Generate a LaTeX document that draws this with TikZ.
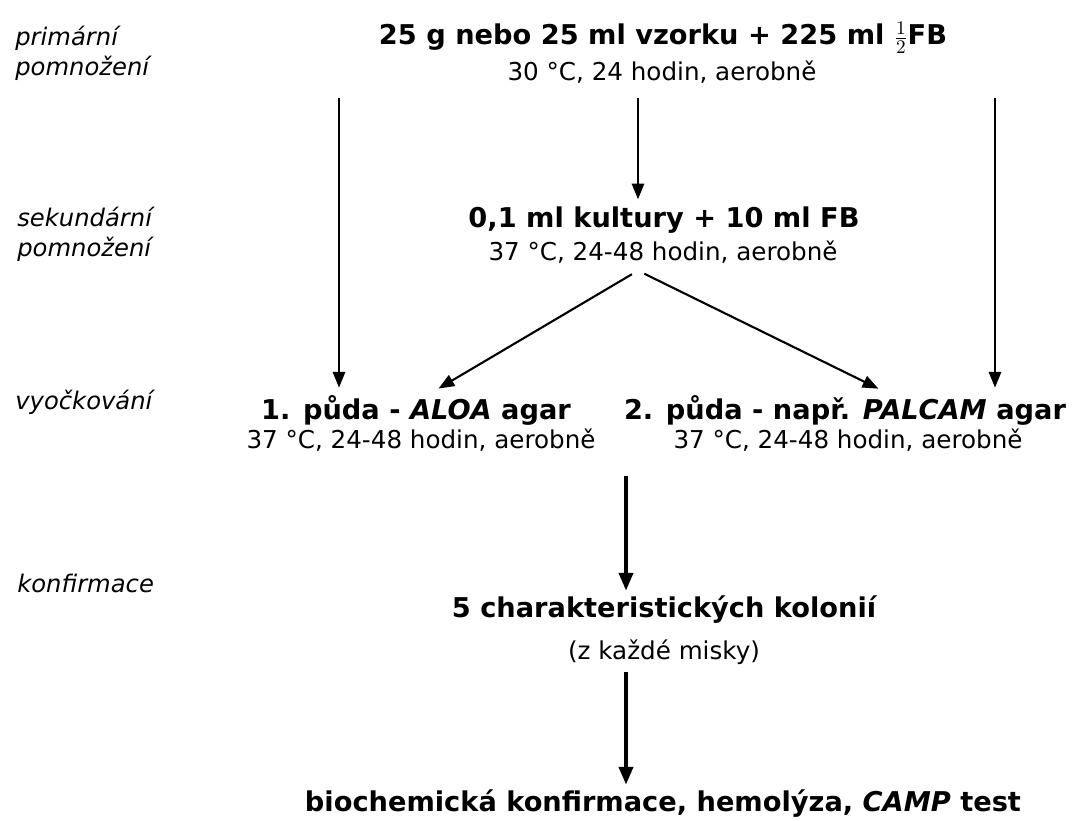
\documentclass[tikz,border=0pt]{standalone}
\usepackage{fontspec}
\setmainfont{DejaVu Sans}
\usetikzlibrary{arrows.meta}

\tikzset{
	krok/.style={font=\fontsize{15.5}{18}\selectfont\bfseries, inner sep=3pt},
	podm/.style={font=\fontsize{14}{16}\selectfont, inner sep=4pt},
	faze/.style={font=\fontsize{13.8}{17}\selectfont\itshape, anchor=west, align=left, inner sep=0pt},
	sip/.style={-{Triangle[length=9pt,width=7pt]}, line width=1.2pt, shorten <=4pt, shorten >=1pt},
	sipT/.style={-{Triangle[length=10pt,width=8pt]}, line width=1.9pt},
}

\begin{document}
\begin{tikzpicture}[x=0.02cm, y=-0.02cm]
	\useasboundingbox (0,0) rectangle (1086,821);

	% faze vlevo
		\node[faze] (f1) at (15,53) {primární\\pomnožení};
		\node[faze] (f2) at (17,234) {sekundární\\pomnožení};
		\node[faze] (f3) at (15,402) {vyočkování};
		\node[faze] (f4) at (17,583) {konfirmace};

	% kroky
		\node[krok] (vzorek) at (663,38) {25 g nebo 25 ml vzorku + 225 ml ${\frac{1}{2}}$FB};
		\node[podm] (vzorekP) at (662,72) {30 °C, 24 hodin, aerobně};
		\node[krok] (kultura) at (664,220) {0,1 ml kultury + 10 ml FB};
		\node[podm] (kulturaP) at (663,252) {37 °C, 24-48 hodin, aerobně};
		\node[krok] (aloa) at (416,410) {1. půda - \textit{ALOA} agar};
		\node[podm] (aloaP) at (421,440) {37 °C, 24-48 hodin, aerobně};
		\node[krok] (palcam) at (845,410) {2. půda - např. \textit{PALCAM} agar};
		\node[podm] (palcamP) at (848,440) {37 °C, 24-48 hodin, aerobně};
		\node[krok] (kolonie) at (664,610) {5 charakteristických kolonií};
		\node[podm] (kolonieP) at (664,652) {(z každé misky)};
		\node[krok] (biochem) at (663,804) {biochemická konfirmace, hemolýza, \textit{CAMP} test};

	% sipky
		\coordinate (sloupL) at (339,0);
		\coordinate (sloupS) at (638,0);
		\coordinate (sloupP) at (995,0);
		\coordinate (sloupD) at (626,0);
		\draw[sip] (vzorekP.south -| sloupL) -- (aloa.north -| sloupL);
		\draw[sip] (vzorekP.south -| sloupP) -- (palcam.north -| sloupP);
		\draw[sip] (vzorekP.south -| sloupS) -- (kultura.north -| sloupS);
		\draw[sip] (kulturaP.south -| sloupS) -- (aloa.north -| 437,0);
		\draw[sip] (kulturaP.south -| sloupS) -- (palcam.north -| 880,0);
		\draw[sipT, shorten <=10pt] (aloaP.south -| sloupD) -- (kolonie.north -| sloupD);
		\draw[sipT] (kolonieP.south -| sloupD) -- (biochem.north -| sloupD);
\end{tikzpicture}
\end{document}
